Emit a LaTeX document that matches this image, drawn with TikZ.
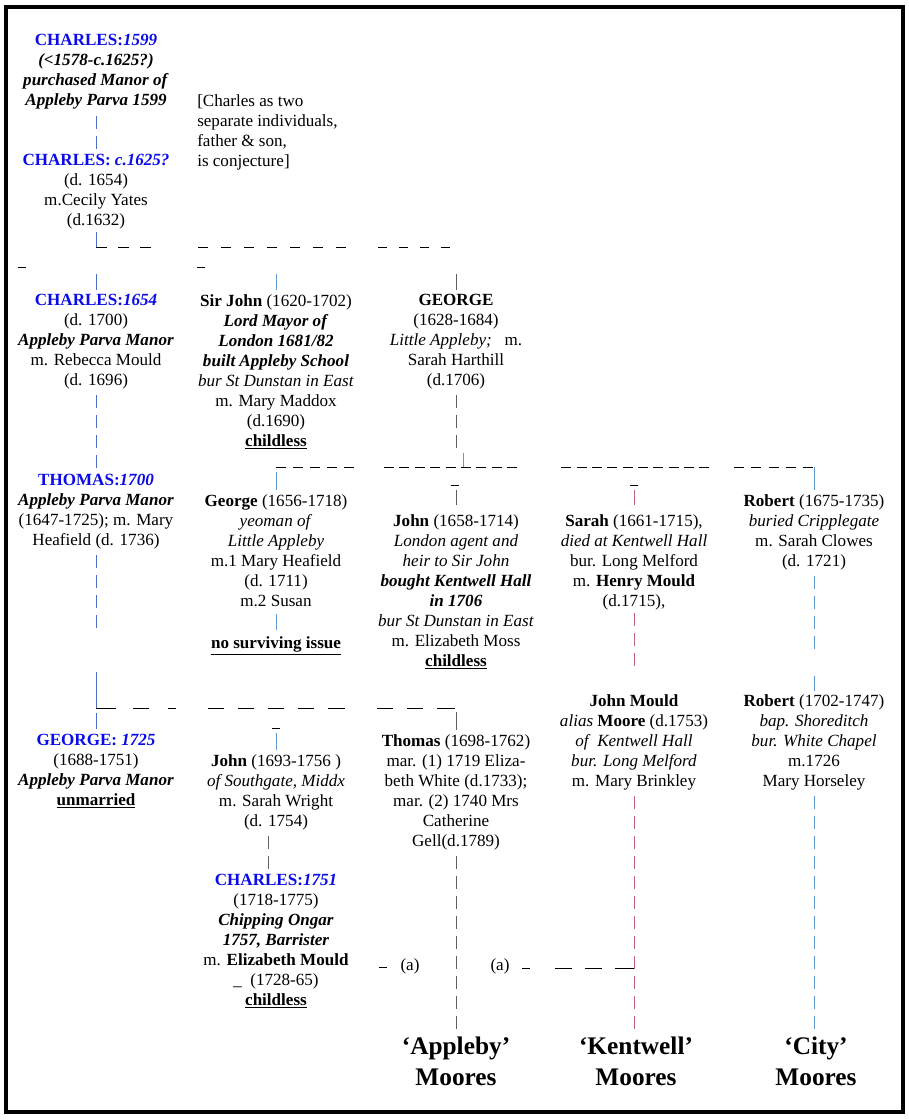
\documentclass[tikz,border=0pt]{standalone}
\usepackage{fontspec}
\setmainfont{Liberation Serif}
\usepackage{tikz}

\definecolor{nameblue}{RGB}{10,10,235}
\definecolor{colone}{RGB}{75,110,205}
\definecolor{lineblue}{RGB}{95,155,210}
\definecolor{linegray}{RGB}{95,95,95}
\definecolor{linepink}{RGB}{192,100,125}

\newcommand{\nm}[1]{\textcolor{nameblue}{\textbf{#1}}}
\newcommand{\bi}[1]{\textbf{\textit{#1}}}
\newcommand{\bul}[1]{\underline{\textbf{#1}}}

\begin{document}
\begin{tikzpicture}[x=0.75pt, y=-0.75pt,
	person/.style={anchor=north, align=center, inner sep=0pt, yshift=-1.5pt, font=\fontsize{12.8}{15}\selectfont,
		execute at begin node=\strut, execute at end node=\strut},
	moores/.style={person, font=\fontsize{19}{23}\selectfont\bfseries},
	vbar/.style={line width=0.75pt, dash pattern=on 9.75pt off 5.25pt},
	tick/.style={line width=0.75pt},
	bustwo/.style={line width=0.75pt, dash pattern=on 8.25pt off 8.25pt on 8.25pt off 8.25pt on 8.25pt off 35.25pt
		on 7.5pt off 9.75pt on 7.5pt off 9.75pt on 7.5pt off 9.75pt on 7.5pt off 9.75pt on 7.5pt off 9.75pt on 7.5pt off 9.75pt on 7.5pt off 24pt
		on 6.75pt off 9pt on 6.75pt off 9pt on 6.75pt off 9pt on 6.75pt off 20pt},
	busthree/.style={line width=0.75pt, dash pattern=on 7.5pt off 5.25pt on 7.5pt off 5.25pt on 7.5pt off 5.25pt on 7.5pt off 5.25pt on 7.5pt off 22.5pt
		on 7.5pt off 4.05pt on 7.5pt off 4.05pt on 7.5pt off 4.05pt on 7.5pt off 4.05pt on 7.5pt off 4.05pt on 7.5pt off 4.05pt on 7.5pt off 4.05pt on 7.5pt off 4.05pt on 7.5pt off 33pt
		on 7.5pt off 4pt on 7.5pt off 4pt on 7.5pt off 4pt on 7.5pt off 4pt on 7.5pt off 4pt on 7.5pt off 4pt on 7.5pt off 4pt on 7.5pt off 4pt on 7.5pt off 4pt on 7.5pt off 18.75pt
		on 7.5pt off 5.4pt on 7.5pt off 5.4pt on 7.5pt off 5.4pt on 7.5pt off 5.4pt on 7.5pt off 10pt},
	busfour/.style={line width=0.75pt, dash pattern=on 15pt off 12.75pt on 12pt off 14.25pt on 6pt off 24pt
		on 12pt off 10.5pt on 12pt off 10.5pt on 12pt off 10.5pt on 12pt off 10.5pt on 12.75pt off 24pt
		on 12pt off 10.5pt on 12pt off 10.5pt on 13.5pt off 10pt},
	]
	\useasboundingbox (0,0) rectangle (909,1120);
	\draw[line width=3pt] (6,7) rectangle (903,1112);

	% generation 1
	\node[person] (charlesA) at (96,32) {\nm{CHARLES:\textit{1599}}\\ \bi{(<1578-c.1625?)}\\ \bi{purchased Manor of}\\ \bi{Appleby Parva 1599}};
	\node[person] (charlesB) at (96,152) {\nm{CHARLES: \textit{c.1625?}}\\ (d. 1654)\\ m.Cecily Yates\\ (d.1632)};
	\node[person, anchor=north west, align=left] (note) at (197,92) {[Charles as two\\ separate individuals,\\ father \& son,\\ is conjecture]};

	% generation 2
	\node[person] (charlesC) at (96,292) {\nm{CHARLES:\textit{1654}}\\ (d. 1700)\\ \bi{Appleby Parva Manor}\\ m. Rebecca Mould\\ (d. 1696)};
	\node[person] (sirjohn) at (276,292) {\textbf{Sir John} (1620-1702)\\ \bi{Lord Mayor of}\\ \bi{London 1681/82}\\ \bi{built Appleby School}\\ \textit{bur St Dunstan in East}\\ m. Mary Maddox\\ (d.1690)\\ \bul{childless}};
	\node[person] (george) at (456,292) {\textbf{GEORGE}\\ (1628-1684)\\ \textit{Little Appleby;}\ \ \ m.\\ Sarah Harthill\\ (d.1706)};

	% generation 3
	\node[person] (thomasA) at (96,472) {\nm{THOMAS:\textit{1700}}\\ \bi{Appleby Parva Manor}\\ (1647-1725); m. Mary\\ Heafield (d. 1736)};
	\node[person] (georgeY) at (276,492) {\textbf{George} (1656-1718)\\ \textit{yeoman of}\\ \textit{Little Appleby}\\ m.1 Mary Heafield\\ (d. 1711)\\ m.2 Susan};
	\node[person] (issue) at (276,632) {\bul{no surviving issue}};
	\node[person] (johnA) at (456,512) {\textbf{John} (1658-1714)\\ \textit{London agent and}\\ \textit{heir to Sir John}\\ \bi{bought Kentwell Hall}\\ \bi{in 1706}\\ \textit{bur St Dunstan in East}\\ m. Elizabeth Moss\\ \bul{childless}};
	\node[person] (sarah) at (634,512) {\textbf{Sarah} (1661-1715),\\ \textit{died at Kentwell Hall}\\ bur. Long Melford\\ m. \textbf{Henry Mould}\\ (d.1715),};
	\node[person] (robertA) at (814,492) {\textbf{Robert} (1675-1735)\\ \textit{buried Cripplegate}\\ m. Sarah Clowes\\ (d. 1721)};

	% generation 4
	\node[person] (georgeB) at (96,732) {\nm{GEORGE: \textit{1725}}\\ (1688-1751)\\ \bi{Appleby Parva Manor}\\ \bul{unmarried}};
	\node[person] (johnB) at (276,752) {\textbf{John} (1693-1756 )\\ \textit{of Southgate, Middx}\\ m. Sarah Wright\\ (d. 1754)};
	\node[person] (thomasB) at (456,732) {\textbf{Thomas} (1698-1762)\\ mar. (1) 1719 Eliza-\\ beth White (d.1733);\\ mar. (2) 1740 Mrs\\ Catherine\\ Gell(d.1789)};
	\node[person] (johnmould) at (634,692) {\textbf{John Mould}\\ \textit{alias} \textbf{Moore} (d.1753)\\ \textit{of\ \ Kentwell Hall}\\ \textit{bur. Long Melford}\\ m. Mary Brinkley};
	\node[person] (robertB) at (814,692) {\textbf{Robert} (1702-1747)\\ \textit{bap. Shoreditch}\\ \textit{bur. White Chapel}\\ m.1726\\ Mary Horseley};
	\node[person] (charlesD) at (276,872) {\nm{CHARLES:\textit{1751}}\\ (1718-1775)\\ \bi{Chipping Ongar}\\ \bi{1757, Barrister}\\ m. \textbf{Elizabeth Mould}\\ \_\ \ (1728-65)\\ \bul{childless}};
	\node[person] (aL) at (410,954) {(a)};
	\node[person] (aR) at (500,954) {(a)};

	% branches
	\node[moores] (applebyM) at (456,1035) {`Appleby'\\Moores};
	\node[moores] (kentwellM) at (636,1035) {`Kentwell'\\Moores};
	\node[moores] (cityM) at (816,1035) {`City'\\Moores};

	\coordinate (fork2) at (96,247);
	\coordinate (fork3) at (463,467);
	\coordinate (fork4) at (96,708);
	\coordinate (kjoin) at (634,968);

	% first line
	\draw[vbar, colone, shorten <=3pt, shorten >=2.7pt] (charlesA.south) -- (charlesB.north);
	\draw[tick, colone] (charlesB.south) -- (fork2);
	\draw[bustwo] (fork2) -- (george.north |- fork2);
	\draw[tick, colone, shorten <=20.25pt, shorten >=2.7pt] (fork2) -- (charlesC.north);
	\draw[tick, lineblue, shorten <=20.25pt, shorten >=2.7pt] (sirjohn.north |- fork2) -- (sirjohn.north);
	\draw[tick, linegray, shorten <=20.25pt, shorten >=2.7pt] (george.north |- fork2) -- (george.north);

	\draw[vbar, colone, shorten <=2.5pt, shorten >=2.7pt] (charlesC.south) -- (thomasA.north);
	\draw[vbar, linegray, shorten <=2.5pt, shorten >=14.25pt] (george.south) -- (george.south |- fork3);
	\draw[tick, lineblue, shorten >=46pt] (fork3) -- (fork3 |- george.south);
	\draw[busthree] (georgeY.north |- fork3) -- (robertA.north |- fork3);
	\draw[tick, lineblue, shorten <=3.75pt, shorten >=2.7pt] (georgeY.north |- fork3) -- (georgeY.north);
	\draw[tick, linegray, shorten <=17.25pt, shorten >=6.5pt] (johnA.north |- fork3) -- (johnA.north);
	\draw[tick, linepink, shorten <=17.25pt, shorten >=6.5pt] (sarah.north |- fork3) -- (sarah.north);
	\draw[tick, lineblue, shorten >=2.7pt] (robertA.north |- fork3) -- (robertA.north);

	\draw[tick, lineblue, shorten <=1pt, shorten >=3pt] (georgeY.south) -- (issue.north);
	\draw[vbar, linepink, shorten <=0.5pt, shorten >=17.7pt] (sarah.south) -- (johnmould.north);
	\draw[tick, lineblue, shorten <=2.5pt, shorten >=1.2pt, dash pattern=on 9.75pt off 5.25pt on 9.75pt off 5.25pt on 9.75pt off 5.25pt on 9.75pt off 20.25pt on 11.25pt off 5pt]
		(robertA.south) -- (robertB.north);
	\draw[tick, colone, shorten <=2.5pt, dash pattern=on 9.75pt off 5.25pt on 9.75pt off 5.25pt on 9.75pt off 5.25pt on 9.75pt off 33pt on 27pt off 5pt]
		(thomasA.south) -- (fork4);

	\draw[busfour] (fork4) -- (thomasB.north |- fork4);
	\draw[tick, colone, shorten <=3.75pt, shorten >=3.5pt] (fork4) -- (georgeB.north);
	\draw[tick, lineblue, shorten <=18.75pt, shorten >=2.7pt] (johnB.north |- fork4) -- (johnB.north);
	\draw[tick, linegray, shorten <=3pt, shorten >=2.7pt] (thomasB.north |- fork4) -- (thomasB.north);

	\draw[vbar, linegray, shorten <=2.5pt, shorten >=1pt, dash pattern=on 9.75pt off 5.5pt] ([xshift=-6pt]johnB.south) -- ([xshift=-6pt]charlesD.north);
	\draw[vbar, linegray, shorten <=2.5pt, shorten >=3pt] (thomasB.south) -- (applebyM.north);
	\draw[vbar, linepink, shorten <=2.5pt, shorten >=3pt] (johnmould.south) -- (kentwellM.north -| johnmould.south);
	\draw[vbar, lineblue, shorten <=2.5pt, shorten >=3pt] (robertB.south) -- (cityM.north -| robertB.south);
	\draw[tick, shorten >=9.4pt, dash pattern=on 14.25pt off 9.75pt on 12.75pt off 9.75pt on 12.75pt off 18.75pt on 6pt off 10pt]
		(kjoin) -- (aR.east |- kjoin);

	% stray rules
	\foreach \x/\y in {22/267, 201/267, 455/485, 634/485, 276/728, 383/967}
		\draw[tick] (\x-4,\y) -- (\x+4,\y);
\end{tikzpicture}
\end{document}
